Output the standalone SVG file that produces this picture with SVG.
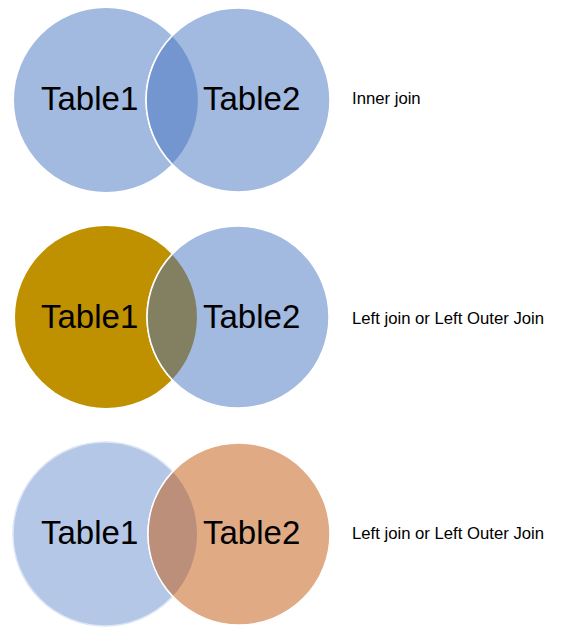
<svg xmlns="http://www.w3.org/2000/svg" width="566" height="644" viewBox="0 0 566 644">
<style>
.big{font-family:"Liberation Sans",Arial,sans-serif;font-size:33px;fill:#000}
.lbl{font-family:"Liberation Sans",Arial,sans-serif;font-size:16.7px;fill:#000}
.blue{fill:#A2B9E0}
.edge{stroke:#fff;stroke-width:1.5}
</style>
<rect width="566" height="644" fill="#fff"/>
<g id="inner-join">
  <circle class="blue" cx="106" cy="100" r="92"/>
  <circle class="blue edge" cx="238" cy="100" r="92"/>
  <path d="M172,36 A92,92 0 0,1 172,164 A92,92 0 0,1 172,36 Z" fill="#7496D0"/>
  <path d="M172,164 A92,92 0 0,1 172,36" fill="none" stroke="#fff" stroke-width="1.5"/>
  <text class="big" x="41" y="110">Table1</text>
  <text class="big" x="203" y="110">Table2</text>
  <text class="lbl" x="352" y="104">Inner join</text>
</g>
<g id="left-join">
  <circle cx="106" cy="317" r="91" fill="#BF9000"/>
  <circle class="blue edge" cx="238" cy="317" r="91"/>
  <path d="M172,254.4 A91,91 0 0,1 172,379.6 A91,91 0 0,1 172,254.4 Z" fill="#828060"/>
  <path d="M172,379.6 A91,91 0 0,1 172,254.4" fill="none" stroke="#fff" stroke-width="1.5"/>
  <text class="big" x="41" y="328">Table1</text>
  <text class="big" x="203" y="328">Table2</text>
  <text class="lbl" x="352" y="324">Left join or Left Outer Join</text>
</g>
<g id="left-outer-join">
  <circle cx="105" cy="534" r="92" fill="#B4C7E7" stroke="#DCE5F4" stroke-width="1.5"/>
  <circle class="edge" cx="239" cy="534" r="91" fill="#E0AA85"/>
  <path d="M172.7,471.7 A92,92 0 0,1 172.7,596.3 A91,91 0 0,1 172.7,471.7 Z" fill="#BC8F7A"/>
  <path d="M172.7,596.3 A91,91 0 0,1 172.7,471.7" fill="none" stroke="#fff" stroke-width="1.5"/>
  <text class="big" x="41" y="544">Table1</text>
  <text class="big" x="203" y="544">Table2</text>
  <text class="lbl" x="352" y="539">Left join or Left Outer Join</text>
</g>
</svg>
